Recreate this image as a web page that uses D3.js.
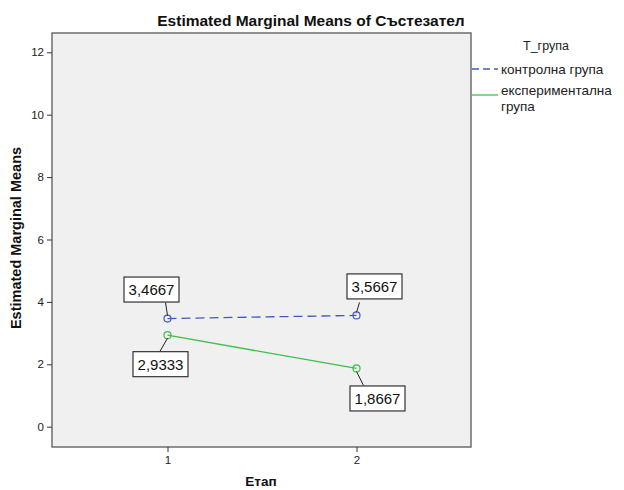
<!DOCTYPE html>
<html>
<head>
<meta charset="utf-8">
<script src="https://cdn.jsdelivr.net/npm/d3@7"></script>
<style>
  body { margin: 0; background: #fff; }
  text { font-family: "Liberation Sans", Arial, sans-serif; }
</style>
</head>
<body>
<div id="chart"></div>
<script>
// data
let stages = [1, 2];
let groups = ["контролна група", "експериментална група"];
let control = [3.4667, 3.5667];
let experimental = [2.9333, 1.8667];
let yTicks = [0, 2, 4, 6, 8, 10, 12];
let labelText = [["3,4667", "3,5667"], ["2,9333", "1,8667"]];

const W = 624, H = 490;
const plot = { left: 52, top: 33, right: 471, bottom: 447 };

const svg = d3.select("#chart").append("svg")
  .attr("width", W).attr("height", H);

const x = d3.scaleLinear().domain([1, 2]).range([167.5, 356.5]);
const y = d3.scaleLinear().domain([0, 12]).range([426.7, 52.3]);

// plot background
svg.append("rect")
  .attr("x", plot.left).attr("y", plot.top)
  .attr("width", plot.right - plot.left).attr("height", plot.bottom - plot.top)
  .attr("fill", "#f0f0f0").attr("stroke", "#6e6e6e").attr("stroke-width", 1.5);

// axes
const yAxis = svg.append("g")
  .attr("transform", `translate(${plot.left},0)`)
  .call(d3.axisLeft(y).tickValues(yTicks).tickSize(5).tickPadding(3));
yAxis.select(".domain").remove();
yAxis.selectAll("text").attr("font-size", 11.5).attr("fill", "#222")
  .style("font-family", "Liberation Sans, Arial, sans-serif");
yAxis.selectAll("line").attr("stroke", "#333");

const xAxis = svg.append("g")
  .attr("transform", `translate(0,${plot.bottom})`)
  .call(d3.axisBottom(x).tickValues(stages).tickFormat(d3.format("d")).tickSize(5).tickPadding(4));
xAxis.select(".domain").remove();
xAxis.selectAll("text").attr("font-size", 11.5).attr("fill", "#222")
  .style("font-family", "Liberation Sans, Arial, sans-serif");
xAxis.selectAll("line").attr("stroke", "#333");

// titles
svg.append("text")
  .attr("x", 311).attr("y", 26).attr("text-anchor", "middle")
  .attr("font-size", 15.5).attr("font-weight", "bold").attr("fill", "#111")
  .text("Estimated Marginal Means of Състезател");

svg.append("text")
  .attr("transform", "translate(21,238) rotate(-90)")
  .attr("text-anchor", "middle")
  .attr("font-size", 14.5).attr("font-weight", "bold").attr("fill", "#111")
  .text("Estimated Marginal Means");

svg.append("text")
  .attr("x", 261).attr("y", 486).attr("text-anchor", "middle")
  .attr("font-size", 13.5).attr("font-weight", "bold").attr("fill", "#111")
  .text("Етап");

// series
const series = [
  { name: groups[0], vals: control, color: "#3f5bc2", dash: "9,5", labels: labelText[0] },
  { name: groups[1], vals: experimental, color: "#3ebf4a", dash: null, labels: labelText[1] }
];

// label box offsets relative to each point (box centre, leader end)
const boxPos = [
  [{ dx: -16, dy: -29, lx: -2, ly: -16 }, { dx: 18, dy: -29, lx: 3, ly: -13 }],
  [{ dx: -7, dy: 29, lx: -8, ly: 17 }, { dx: 21, dy: 30, lx: 7, ly: 17 }]
];

const line = d3.line().x((d, i) => x(stages[i])).y(d => y(d));

series.forEach((s, si) => {
  svg.append("path")
    .datum(s.vals)
    .attr("d", line)
    .attr("fill", "none")
    .attr("stroke", s.color)
    .attr("stroke-width", 1.3)
    .attr("stroke-dasharray", s.dash);

  svg.selectAll(".pt" + si)
    .data(s.vals).enter()
    .append("circle")
    .attr("cx", (d, i) => x(stages[i]))
    .attr("cy", d => y(d))
    .attr("r", 3.5)
    .attr("fill", "none")
    .attr("stroke", s.color)
    .attr("stroke-width", 1.2);

  s.vals.forEach((v, i) => {
    const px = x(stages[i]), py = y(v);
    const b = boxPos[si][i];
    svg.append("line")
      .attr("x1", px).attr("y1", py + (b.ly < 0 ? -3 : 3))
      .attr("x2", px + b.lx).attr("y2", py + b.ly)
      .attr("stroke", "#222").attr("stroke-width", 1);
    const g = svg.append("g").attr("transform", `translate(${px + b.dx},${py + b.dy})`);
    g.append("rect")
      .attr("x", -27.5).attr("y", -12.5).attr("width", 55).attr("height", 25)
      .attr("fill", "#fff").attr("stroke", "#333").attr("stroke-width", 1.2);
    g.append("text")
      .attr("text-anchor", "middle").attr("y", 5.5)
      .attr("font-size", 15).attr("fill", "#111")
      .text(s.labels[i]);
  });
});

// legend
svg.append("text")
  .attr("x", 523).attr("y", 50)
  .attr("font-size", 12.5).attr("fill", "#222")
  .text("T_група");

const legY = [69, 95];
series.forEach((s, si) => {
  svg.append("line")
    .attr("x1", 472).attr("x2", 498)
    .attr("y1", legY[si]).attr("y2", legY[si])
    .attr("stroke", s.color).attr("stroke-width", 1.3)
    .attr("stroke-dasharray", s.dash ? "7,4" : null);
});
svg.append("text").attr("x", 501).attr("y", 74)
  .attr("font-size", 13.5).attr("fill", "#222").text(groups[0]);
const t2 = svg.append("text").attr("x", 501).attr("y", 95)
  .attr("font-size", 13.5).attr("fill", "#222");
t2.append("tspan").attr("x", 501).text("експериментална");
t2.append("tspan").attr("x", 501).attr("dy", 16).text("група");
</script>
</body>
</html>
